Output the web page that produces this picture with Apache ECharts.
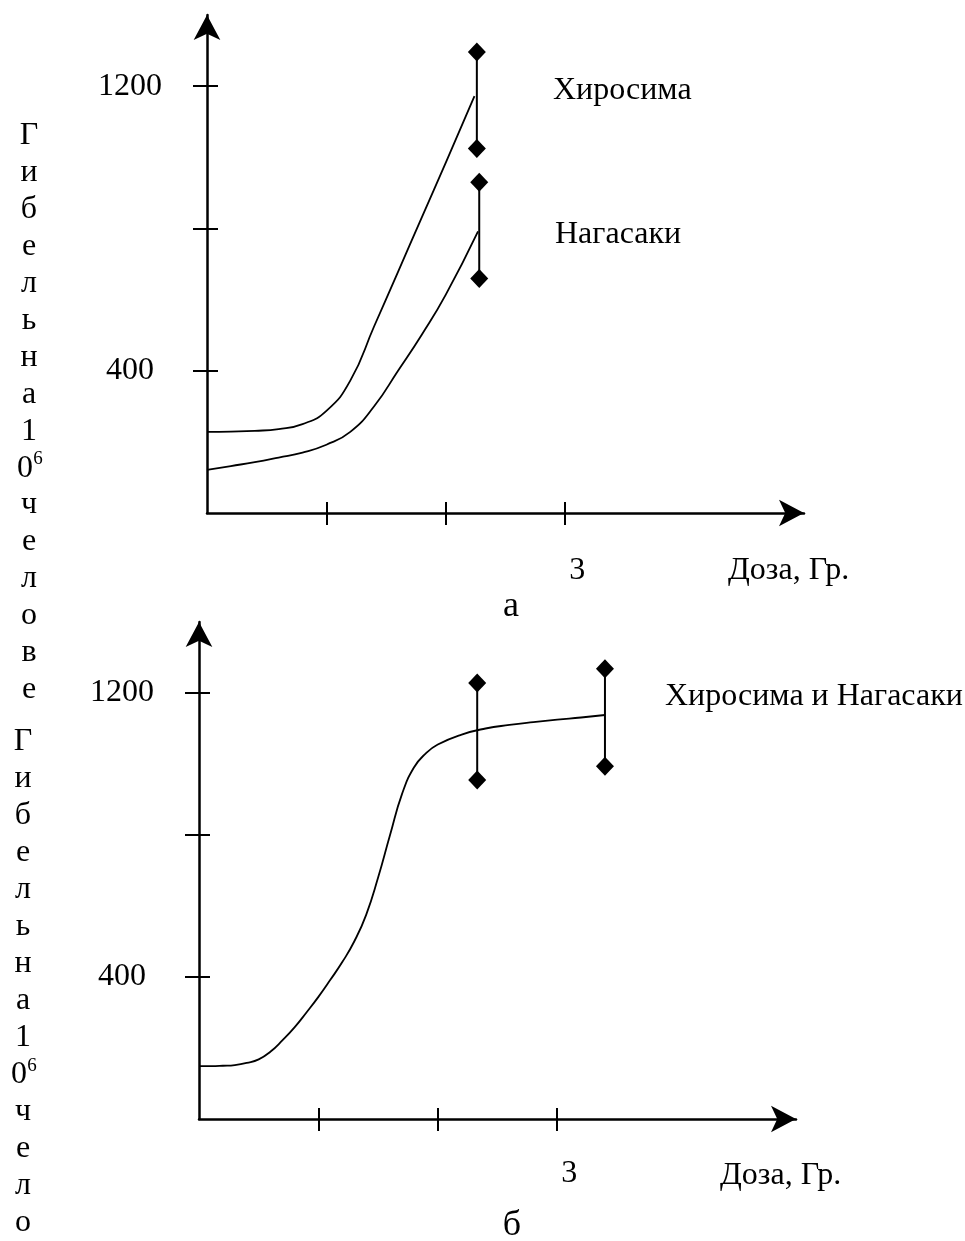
<!DOCTYPE html>
<html>
<head>
<meta charset="utf-8">
<title>Гибель на 10^6 человек</title>
<script src="https://cdn.jsdelivr.net/npm/echarts@6/dist/echarts.min.js"></script>
<style>
  html, body { margin: 0; padding: 0; background: #fff; }
  #chart { width: 965px; height: 1241px; }
</style>
</head>
<body>
<div id="chart"></div>
<script>
// график а: Хиросима и Нагасаки отдельно
var hiroDose = [0, 0.2, 0.4, 0.6, 0.8, 1.0, 1.2, 1.4, 1.6, 1.8, 2.0, 2.24];
var hiroDeaths = [228, 229, 231, 236, 250, 287, 372, 525, 678, 832, 985, 1172];
var nagaDose = [0, 0.2, 0.4, 0.6, 0.8, 1.0, 1.2, 1.4, 1.6, 1.8, 2.0, 2.27];
var nagaDeaths = [121, 132, 143, 156, 170, 192, 228, 300, 400, 502, 614, 792];
var errDoseA = [2.26, 2.28];
var errLowA = [1025, 659];
var errHighA = [1296, 930];

// график б: вместе
var bothDose = [0, 0.1, 0.2, 0.3, 0.4, 0.5, 0.6, 0.7, 0.8, 0.9, 1.0, 1.1, 1.2, 1.3, 1.4, 1.5, 1.6, 1.7, 1.8, 1.9, 2.0,
                2.2, 2.4, 2.6, 2.8, 3.0, 3.2, 3.4];
var bothDeaths = [149, 149, 150, 152, 158, 168, 190, 222, 258, 300, 344, 392, 442, 500, 575, 680, 800, 915, 990, 1030, 1055,
                  1083, 1100, 1110, 1118, 1125, 1131, 1138];
var errDoseB = [2.33, 3.40];
var errLowB = [955, 994];
var errHighB = [1228, 1268];

var yTicks = [400, 800, 1200];
var yLabels = [400, 1200];
var xTicks = [1, 2, 3];
var xLabels = [3];

var colChars1 = ['Г','и','б','е','л','ь','н','а','1','0^6','ч','е','л','о','в','е'];
var colChars2 = ['Г','и','б','е','л','ь','н','а','1','0^6','ч','е','л','о'];

var FONT = '"Liberation Serif", "Times New Roman", serif';
var black = '#000';

function plain(v) { return String(v); }

function xAxesFor(gi, labelMargin) {
  return [
    {
      gridIndex: gi, type: 'value', min: 0, max: 5, position: 'bottom',
      axisLine: { show: true, symbol: ['none', 'arrow'], symbolSize: [20, 25], lineStyle: { color: black, width: 2.5 } },
      axisTick: { show: true, inside: false, length: 12, customValues: xTicks, lineStyle: { color: black, width: 2 } },
      axisLabel: { show: true, customValues: xLabels, formatter: plain, margin: labelMargin, padding: [0, 0, 0, 24], color: black, fontFamily: FONT, fontSize: 32 },
      splitLine: { show: false }
    },
    {
      gridIndex: gi, type: 'value', min: 0, max: 5, position: 'bottom',
      axisLine: { show: false },
      axisTick: { show: true, inside: true, length: 11, customValues: xTicks, lineStyle: { color: black, width: 2 } },
      axisLabel: { show: false },
      splitLine: { show: false }
    }
  ];
}

function yAxesFor(gi) {
  return [
    {
      gridIndex: gi, type: 'value', min: 0, max: 1400, position: 'left',
      axisLine: { show: true, symbol: ['none', 'arrow'], symbolSize: [20, 25], lineStyle: { color: black, width: 2.5 } },
      axisTick: { show: true, inside: false, length: 14, customValues: yTicks, lineStyle: { color: black, width: 2 } },
      axisLabel: { show: true, customValues: yLabels, formatter: plain, margin: 77, align: 'center', padding: [6, 0, 0, 0], color: black, fontFamily: FONT, fontSize: 32 },
      splitLine: { show: false }
    },
    {
      gridIndex: gi, type: 'value', min: 0, max: 1400, position: 'left',
      axisLine: { show: false },
      axisTick: { show: true, inside: true, length: 11, customValues: yTicks, lineStyle: { color: black, width: 2 } },
      axisLabel: { show: false },
      splitLine: { show: false }
    }
  ];
}

function curve(xs, ys, axisIdx) {
  return {
    type: 'line', xAxisIndex: axisIdx, yAxisIndex: axisIdx,
    data: xs.map(function (x, i) { return [x, ys[i]]; }),
    smooth: 0.5, showSymbol: false, silent: true,
    lineStyle: { color: black, width: 1.8 }
  };
}

function errorBars(xs, lows, highs, axisIdx) {
  return xs.map(function (x, i) {
    return {
      type: 'line', xAxisIndex: axisIdx, yAxisIndex: axisIdx,
      data: [[x, lows[i]], [x, highs[i]]],
      showSymbol: true, symbol: 'diamond', symbolSize: [18, 19], silent: true, z: 3,
      itemStyle: { color: black },
      lineStyle: { color: black, width: 2 }
    };
  });
}

function label(text, x, y, size, align) {
  return {
    type: 'text', x: x, y: y, silent: true,
    style: {
      text: text, fill: black, font: size + 'px ' + FONT,
      align: align || 'left', verticalAlign: 'middle',
      textAlign: align || 'left', textVerticalAlign: 'middle'
    }
  };
}

// вертикальная подпись слева, по одной букве
function columnText(chars, cx, y0, step) {
  var out = [];
  chars.forEach(function (c, i) {
    var y = y0 + step * i;
    if (c === '0^6') {
      out.push(label('0', cx - 4, y, 32, 'center'));
      out.push(label('6', cx + 9, y - 9, 19, 'center'));
    } else {
      out.push(label(c, cx, y, 32, 'center'));
    }
  });
  return out;
}

var graphics = []
  .concat(columnText(colChars1, 29, 136, 36.9))
  .concat(columnText(colChars2, 23, 742, 37))
  .concat([
    label('Хиросима', 553, 91, 32),
    label('Нагасаки', 555, 235, 32),
    label('Доза, Гр.', 728, 571, 32),
    label('а', 511, 607, 36, 'center'),
    label('Хиросима и Нагасаки', 665, 697, 32),
    label('Доза, Гр.', 720, 1176, 32),
    label('б', 512, 1226, 36, 'center')
  ]);

var myChart = echarts.init(document.getElementById('chart'), null, { renderer: 'canvas' });
var option = {
  backgroundColor: '#fff',
  animation: false,
  grid: [
    { left: 207, top: 15, width: 597, height: 498, containLabel: false, outerBoundsMode: 'none' },
    { left: 199, top: 622, width: 597, height: 497, containLabel: false, outerBoundsMode: 'none' }
  ],
  xAxis: xAxesFor(0, 42).concat(xAxesFor(1, 39)),
  yAxis: yAxesFor(0).concat(yAxesFor(1)),
  series: [
    curve(hiroDose, hiroDeaths, 0),
    curve(nagaDose, nagaDeaths, 0),
    curve(bothDose, bothDeaths, 2)
  ].concat(errorBars(errDoseA, errLowA, errHighA, 0))
   .concat(errorBars(errDoseB, errLowB, errHighB, 2)),
  graphic: graphics
};
myChart.setOption(option);
</script>
</body>
</html>
